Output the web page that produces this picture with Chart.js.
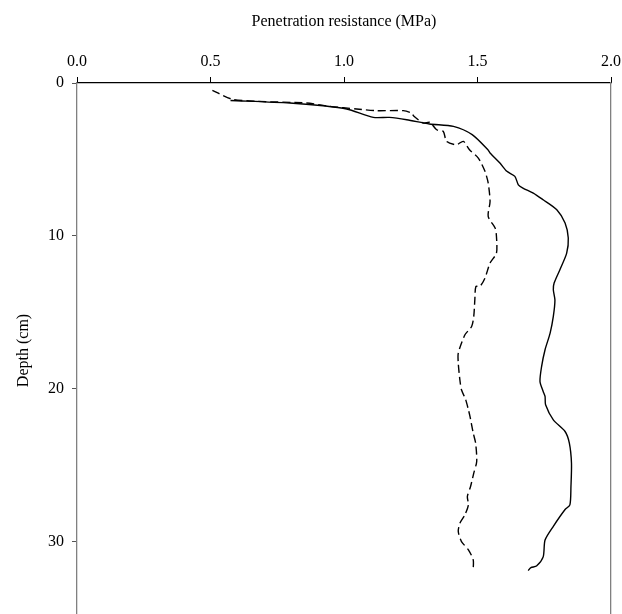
<!DOCTYPE html>
<html>
<head>
<meta charset="utf-8">
<script src="https://cdn.jsdelivr.net/npm/chart.js@4.4.0/dist/chart.umd.min.js"></script>
<style>
  html, body { margin: 0; padding: 0; background: #fff; overflow: hidden; }
  #wrap { width: 622px; height: 620px; }
</style>
</head>
<body>
<div id="wrap"><canvas id="chartJSContainer" width="622" height="620"></canvas></div>
<script>
// solid profile
var solidDepth = [1.14, 1.31, 1.49, 1.70, 2.25, 2.25, 2.40, 2.68, 2.84, 3.38, 4.37, 4.58, 5.24, 5.78, 6.11, 6.66, 6.87, 7.20, 7.64, 8.29, 9.16, 10.14, 11.13, 12.20, 13.09, 13.53, 14.20, 15.27, 16.36, 17.45, 18.55, 19.53, 20.18, 20.50, 21.05, 22.04, 22.80, 23.56, 24.87, 26.40, 27.60, 27.90, 29.00, 29.90, 31.00, 31.60, 31.70, 31.90];
var solidMPa = [0.575, 0.797, 0.922, 1.01, 1.11, 1.17, 1.235, 1.32, 1.41, 1.48, 1.539, 1.547, 1.584, 1.61, 1.64, 1.653, 1.67, 1.709, 1.746, 1.797, 1.828, 1.84, 1.834, 1.809, 1.787, 1.784, 1.79, 1.784, 1.772, 1.753, 1.74, 1.734, 1.746, 1.753, 1.755, 1.784, 1.828, 1.844, 1.852, 1.85, 1.846, 1.828, 1.784, 1.753, 1.746, 1.721, 1.70, 1.69];

// dashed profile
var dashDepth = [0.48, 1.05, 1.20, 1.31, 1.53, 1.70, 1.81, 1.81, 1.97, 2.18, 2.62, 2.58, 3.06, 3.17, 3.82, 4.04, 3.82, 4.37, 4.91, 5.78, 6.54, 7.75, 8.73, 9.49, 10.04, 11.13, 11.78, 12.76, 13.31, 13.31, 14.18, 15.27, 15.93, 16.47, 17.67, 18.33, 19.42, 20.07, 20.73, 21.38, 21.82, 22.90, 23.56, 24.76, 25.52, 26.40, 27.05, 27.60, 28.25, 28.80, 29.34, 30.00, 30.54, 31.20, 31.80];
var dashMPa = [0.507, 0.579, 0.673, 0.86, 0.948, 1.047, 1.122, 1.222, 1.253, 1.262, 1.297, 1.322, 1.347, 1.372, 1.384, 1.42, 1.447, 1.47, 1.503, 1.528, 1.54, 1.547, 1.54, 1.566, 1.571, 1.571, 1.547, 1.528, 1.509, 1.494, 1.49, 1.486, 1.478, 1.453, 1.428, 1.428, 1.434, 1.44, 1.456, 1.466, 1.472, 1.484, 1.493, 1.497, 1.486, 1.474, 1.462, 1.466, 1.453, 1.434, 1.428, 1.44, 1.466, 1.484, 1.484];

var xTicks = [0, 0.5, 1.0, 1.5, 2.0];
var yTicks = [0, 10, 20, 30];

function pts(xs, ys) {
  return xs.map(function (v, i) { return { x: v, y: ys[i] }; });
}

var serif = "'Liberation Serif', 'Times New Roman', serif";

var options = {
  type: "scatter",
  data: {
    datasets: [
      {
        label: "solid",
        data: pts(solidMPa, solidDepth),
        showLine: true,
        borderColor: "#000",
        borderWidth: 1.4,
        pointRadius: 0,
        tension: 0.25,
        yAxisID: "y",
      },
      {
        label: "dashed",
        data: pts(dashMPa, dashDepth),
        showLine: true,
        borderColor: "#000",
        borderWidth: 1.4,
        borderDash: [8, 4],
        pointRadius: 0,
        tension: 0.25,
        yAxisID: "y",
      },
    ],
  },
  options: {
    responsive: false,
    animation: false,
    layout: { padding: { left: 0, right: 11, top: 0, bottom: 2 } },
    plugins: { legend: { display: false }, tooltip: { enabled: false } },
    scales: {
      x: {
        type: "linear",
        position: "top",
        min: 0,
        max: 2,
        afterBuildTicks: function (s) { s.ticks = xTicks.map(function (v) { return { value: v }; }); },
        afterFit: function (s) { s.height = 83; s.paddingLeft = 0; s.paddingRight = 0; },
        ticks: {
          color: "#000",
          font: { family: serif, size: 16 },
          padding: 6,
          maxRotation: 0,
          callback: function (v) { return Number(v).toFixed(1); },
        },
        grid: { drawOnChartArea: false, drawTicks: true, tickLength: 6, color: "#000" },
        border: { display: true, color: "#000", width: 1.3 },
        title: {
          display: true,
          text: "Penetration resistance (MPa)",
          color: "#000",
          font: { family: serif, size: 16 },
          padding: { top: 12, bottom: 6 },
        },
      },
      y: {
        type: "linear",
        position: "left",
        reverse: true,
        min: 0,
        max: 35,
        afterBuildTicks: function (s) { s.ticks = yTicks.map(function (v) { return { value: v }; }); },
        afterFit: function (s) { s.width = 77; s.paddingTop = 0; s.paddingBottom = 0; },
        ticks: {
          color: "#000",
          font: { family: serif, size: 16 },
          padding: 8,
        },
        grid: { drawOnChartArea: false, drawTicks: true, tickLength: 5, color: "#555" },
        border: { display: true, color: "#808080", width: 1.3 },
        title: {
          display: true,
          text: "Depth (cm)",
          color: "#000",
          font: { family: serif, size: 16 },
          padding: { top: 14, bottom: 0 },
        },
      },
      y2: {
        type: "linear",
        position: "right",
        reverse: true,
        min: 0,
        max: 35,
        afterFit: function (s) { s.width = 0; s.paddingTop = 0; s.paddingBottom = 0; },
        ticks: { display: false },
        grid: { display: false },
        border: { display: true, color: "#808080", width: 1.3 },
      },
    },
  },
};

var ctx = document.getElementById("chartJSContainer").getContext("2d");
var myChart = new Chart(ctx, options);
</script>
</body>
</html>
